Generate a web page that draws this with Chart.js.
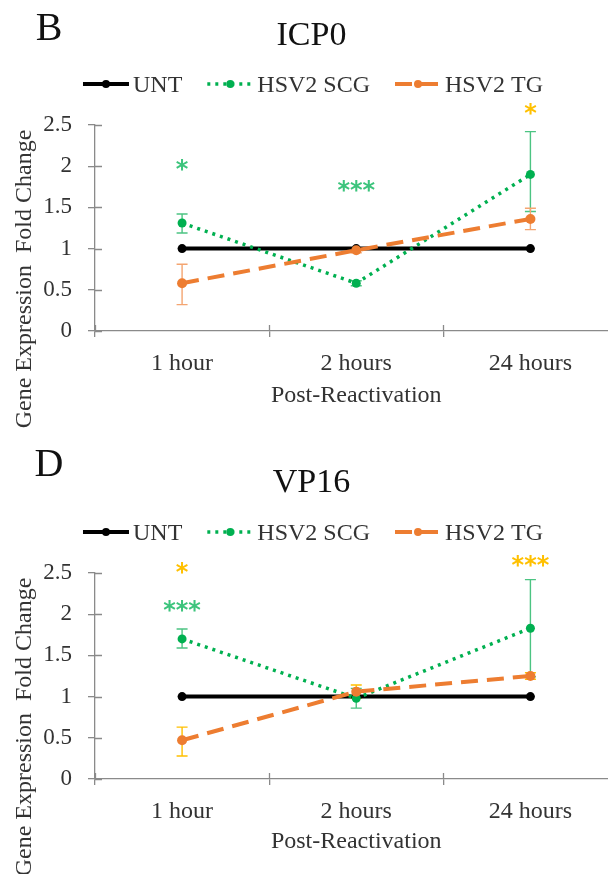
<!DOCTYPE html>
<html>
<head>
<meta charset="utf-8">
<script src="https://cdn.jsdelivr.net/npm/chart.js@4.4.1/dist/chart.umd.min.js"></script>
<style>
body { margin: 0; width: 608px; height: 874px; overflow: hidden; background: #fff; }
canvas { display: block; }
</style>
</head>
<body>
<canvas id="chartB" width="640" height="448"></canvas>
<canvas id="chartD" width="640" height="426"></canvas>
<script>
const categories = ['1 hour', '2 hours', '24 hours'];
const yTickLabels = ['0', '0.5', '1', '1.5', '2', '2.5'];
const seriesNames = ['UNT', 'HSV2 SCG', 'HSV2 TG'];

// ICP0 (panel B)
const icp0Unt = [1, 1, 1];
const icp0Scg = [1.31, 0.58, 1.90];
const icp0ScgLow = [1.19, 0.55, 1.45];
const icp0ScgHigh = [1.42, 0.61, 2.42];
const icp0Tg = [0.58, 0.98, 1.36];
const icp0TgLow = [0.32, 0.95, 1.23];
const icp0TgHigh = [0.81, 1.01, 1.49];
const icp0ScgStarAt = [2.01, 1.76, null];
const icp0ScgStars = ['*', '***', ''];
const icp0TgStarAt = [null, null, 2.69];
const icp0TgStars = ['', '', '*'];

// VP16 (panel D)
const vp16Unt = [1, 1, 1];
const vp16Scg = [1.70, 0.98, 1.83];
const vp16ScgLow = [1.59, 0.86, 1.24];
const vp16ScgHigh = [1.82, 1.10, 2.42];
const vp16Tg = [0.47, 1.06, 1.25];
const vp16TgLow = [0.28, 0.98, 1.21];
const vp16TgHigh = [0.63, 1.14, 1.29];
const vp16ScgStarAt = [2.10, null, null];
const vp16ScgStars = ['***', '', ''];
const vp16TgStarAt = [2.56, null, 2.65];
const vp16TgStars = ['*', '', '***'];

const serif = "'Liberation Serif', 'Times New Roman', serif";
const axisGray = '#8a8a8a';
const textGray = '#333333';
const green = '#00b050';
const orange = '#ed7d31';
const styles = [
    { color: '#000000', dash: [], width: 4, radius: 4.5 },
    { color: green, dash: [3, 5], width: 3.5, radius: 4.5 },
    { color: orange, dash: [17, 9], width: 4, radius: 5 }
];

function drawCentered(ctx, text, x, y, align) {
    const m = ctx.measureText(text);
    ctx.textAlign = align || 'center';
    ctx.textBaseline = 'alphabetic';
    ctx.fillText(text, x, y + (m.actualBoundingBoxAscent - m.actualBoundingBoxDescent) / 2);
}

const extrasPlugin = {
    id: 'extras',
    beforeDatasetsDraw(chart, args, opts) {
        const ctx = chart.ctx, xs = chart.scales.x, ys = chart.scales.y;
        opts.errors.forEach(e => {
            ctx.save();
            ctx.strokeStyle = e.color;
            ctx.lineWidth = 1.4;
            e.low.forEach((lo, i) => {
                const px = xs.getPixelForValue(i);
                const a = ys.getPixelForValue(lo), b = ys.getPixelForValue(e.high[i]);
                ctx.beginPath();
                ctx.moveTo(px, a); ctx.lineTo(px, b);
                ctx.moveTo(px - 5.5, a); ctx.lineTo(px + 5.5, a);
                ctx.moveTo(px - 5.5, b); ctx.lineTo(px + 5.5, b);
                ctx.stroke();
            });
            ctx.restore();
        });
    },
    afterDraw(chart, args, opts) {
        const ctx = chart.ctx, xs = chart.scales.x, ys = chart.scales.y, area = chart.chartArea;
        ctx.save();

        // inner half of the crossing tick marks
        ctx.strokeStyle = axisGray;
        ctx.lineWidth = 1.3;
        ctx.beginPath();
        ys.ticks.forEach((t, i) => {
            const py = Math.round(ys.getPixelForTick(i)) + 0.5;
            ctx.moveTo(area.left, py); ctx.lineTo(area.left + 7, py);
        });
        for (let i = 0; i <= categories.length; i++) {
            const px = Math.round(area.left + i * area.width / categories.length) + 0.5;
            ctx.moveTo(px, area.bottom); ctx.lineTo(px, area.bottom - 6);
        }
        ctx.stroke();

        // significance stars
        ctx.font = "bold 24px 'DejaVu Sans', sans-serif";
        opts.stars.forEach(s => {
            ctx.fillStyle = s.color;
            s.at.forEach((v, i) => {
                if (v === null) return;
                drawCentered(ctx, s.text[i], xs.getPixelForValue(i), ys.getPixelForValue(v));
            });
        });

        // panel letter and title
        ctx.fillStyle = '#111111';
        ctx.font = '40px ' + serif;
        drawCentered(ctx, opts.letter, 49, opts.letterY);
        ctx.font = '34px ' + serif;
        drawCentered(ctx, opts.title, 311.5, 33.5);

        // legend
        ctx.font = '24px ' + serif;
        const lineLen = 46, gap = 25, textGap = 4;
        const widths = seriesNames.map(n => lineLen + textGap + ctx.measureText(n).width);
        let x = 313 - (widths.reduce((a, b) => a + b, 0) + gap * (widths.length - 1)) / 2;
        const ly = 84;
        seriesNames.forEach((name, i) => {
            const st = styles[i];
            ctx.strokeStyle = st.color;
            ctx.lineWidth = st.width;
            ctx.setLineDash(st.dash);
            ctx.beginPath();
            ctx.moveTo(x, ly); ctx.lineTo(x + lineLen, ly);
            ctx.stroke();
            ctx.setLineDash([]);
            ctx.fillStyle = st.color;
            ctx.beginPath();
            ctx.arc(x + lineLen / 2, ly, 4, 0, Math.PI * 2);
            ctx.fill();
            ctx.fillStyle = textGray;
            drawCentered(ctx, name, x + lineLen + textGap, ly, 'left');
            x += widths[i] + gap;
        });

        // y axis title
        ctx.translate(25, 279);
        ctx.rotate(-Math.PI / 2);
        ctx.fillStyle = textGray;
        ctx.font = '24px ' + serif;
        ctx.textAlign = 'center';
        ctx.textBaseline = 'middle';
        ctx.fillText('Gene Expression  Fold Change', 0, 0);
        ctx.restore();
    }
};

function makeChart(id, p) {
    const ctx = document.getElementById(id).getContext('2d');
    const h = ctx.canvas.height;
    return new Chart(ctx, {
        type: 'line',
        data: {
            labels: categories,
            datasets: [p.unt, p.scg, p.tg].map((vals, i) => ({
                label: seriesNames[i],
                data: vals,
                order: 3 - i,
                borderColor: styles[i].color,
                backgroundColor: styles[i].color,
                borderWidth: styles[i].width,
                borderDash: styles[i].dash,
                pointRadius: styles[i].radius,
                pointBorderWidth: 0,
                pointBackgroundColor: styles[i].color,
                tension: 0,
                fill: false
            }))
        },
        options: {
            responsive: false,
            animation: false,
            devicePixelRatio: 1,
            layout: { padding: { top: 125, right: 22.5, left: 0, bottom: 0 } },
            plugins: {
                legend: { display: false },
                tooltip: { enabled: false },
                extras: {
                    letter: p.letter,
                    letterY: p.letterY,
                    title: p.title,
                    errors: [
                        { low: p.scgLow, high: p.scgHigh, color: '#4cc482' },
                        { low: p.tgLow, high: p.tgHigh, color: p.tgErrColor }
                    ],
                    stars: [
                        { at: p.scgStarAt, text: p.scgStars, color: '#3cc47c' },
                        { at: p.tgStarAt, text: p.tgStars, color: '#ffc000' }
                    ]
                }
            },
            scales: {
                x: {
                    type: 'category',
                    offset: true,
                    afterFit(scale) { scale.height = h - 331; },
                    grid: { offset: true, drawOnChartArea: false, tickLength: 6, color: axisGray, lineWidth: 1.3 },
                    border: { color: axisGray, width: 1.3 },
                    ticks: { color: textGray, font: { family: serif, size: 24 }, padding: 12, maxRotation: 0 },
                    title: {
                        display: true,
                        text: 'Post-Reactivation',
                        color: textGray,
                        font: { family: serif, size: 24 },
                        padding: { top: 0, bottom: p.xTitlePad }
                    }
                },
                y: {
                    min: 0,
                    max: 2.5,
                    afterFit(scale) { scale.width = 95; },
                    grid: { drawOnChartArea: false, tickLength: 7, color: axisGray, lineWidth: 1.3 },
                    border: { color: axisGray, width: 1.3 },
                    ticks: {
                        stepSize: 0.5,
                        padding: 16,
                        color: textGray,
                        font: { family: serif, size: 23 },
                        callback: (v, i) => yTickLabels[i]
                    }
                }
            }
        },
        plugins: [extrasPlugin]
    });
}

makeChart('chartB', {
    letter: 'B', letterY: 27, title: 'ICP0',
    unt: icp0Unt, scg: icp0Scg, tg: icp0Tg,
    scgLow: icp0ScgLow, scgHigh: icp0ScgHigh,
    tgLow: icp0TgLow, tgHigh: icp0TgHigh, tgErrColor: '#f4a571',
    scgStarAt: icp0ScgStarAt, scgStars: icp0ScgStars,
    tgStarAt: icp0TgStarAt, tgStars: icp0TgStars,
    xTitlePad: 38
});

makeChart('chartD', {
    letter: 'D', letterY: 15, title: 'VP16',
    unt: vp16Unt, scg: vp16Scg, tg: vp16Tg,
    scgLow: vp16ScgLow, scgHigh: vp16ScgHigh,
    tgLow: vp16TgLow, tgHigh: vp16TgHigh, tgErrColor: '#ffc000',
    scgStarAt: vp16ScgStarAt, scgStars: vp16ScgStars,
    tgStarAt: vp16TgStarAt, tgStars: vp16TgStars,
    xTitlePad: 18
});
</script>
</body>
</html>
